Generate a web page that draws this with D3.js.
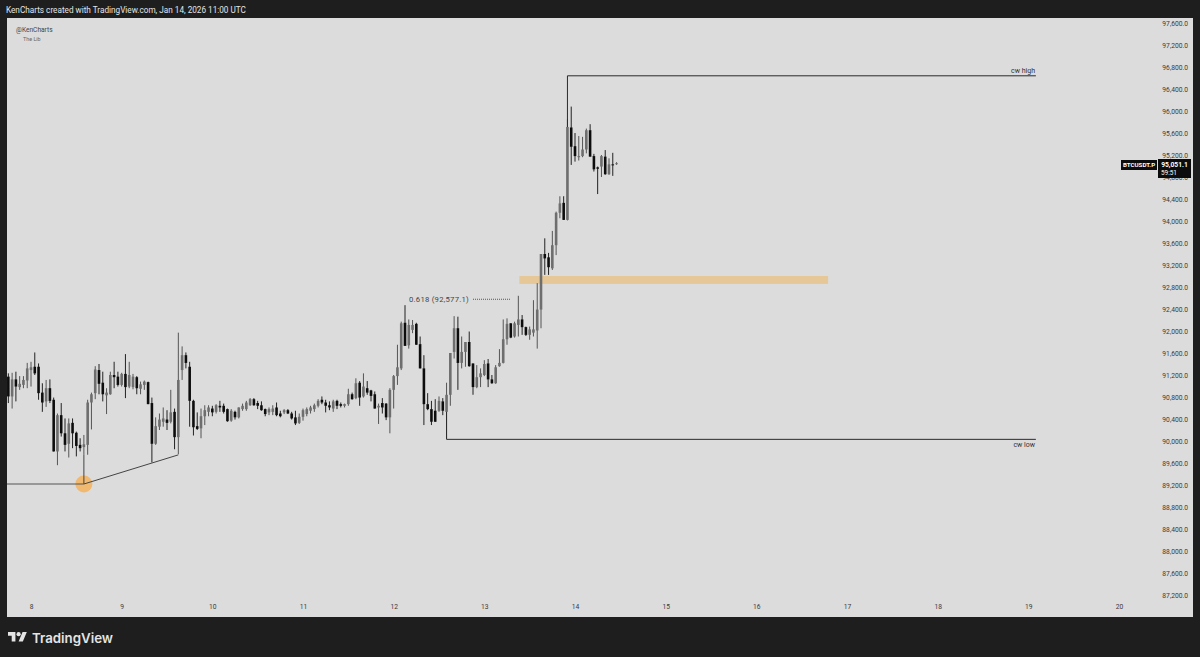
<!DOCTYPE html>
<html><head><meta charset="utf-8">
<script src="https://cdn.jsdelivr.net/npm/d3@7/dist/d3.min.js"></script>
<style>html,body{margin:0;padding:0;background:#1e1e1e;overflow:hidden}svg{display:block}text{font-family:Roboto,sans-serif}</style>
</head><body><svg id="c" width="1200" height="657"></svg>
<script>
// Hourly candles, first bar Jan 7 2026 18:00 UTC
const firstBar = Date.UTC(2026,0,7,18);
const open = [
91170,90810,91120,90980,91020,91100,91290,91350,91350,90880,
90720,90960,90750,89810,90470,90140,89950,90330,90150,89930,
89890,89930,90700,90870,91290,91060,90830,90850,91200,91170,
91020,91220,90990,90980,91160,90950,91020,91070,90690,89950,
90260,90350,90390,90350,90530,90070,91290,91560,91350,90730,
90270,90230,90450,90530,90590,90530,90640,90640,90580,90370,
90530,90430,90580,90580,90650,90760,90690,90650,90580,90520,
90530,90610,90500,90520,90560,90500,90430,90330,90440,90490,
90550,90580,90640,90750,90700,90650,90590,90730,90670,90640,
90670,90850,90780,91060,90810,90960,90920,90850,90610,90690,
90680,90430,90930,91180,91320,92150,91740,92020,92130,91760,
91320,90670,90580,90550,90550,90720,90530,90840,91620,92050,
91420,91620,91800,91410,90980,91160,91200,91410,91120,91050,
91360,91420,91850,92140,91900,92110,92210,92070,91930,91970,
92010,92390,93400,93340,93140,93560,94150,94330,94020,95700,
95360,95160,95180,95300,95650,95180,94975,94990,95170,94850,
95030,95040];
const high = [
91230,91240,91260,91180,91180,91420,91440,91610,91410,91050,
91110,91120,90790,90500,90690,90410,90410,90410,90170,90050,
90110,90750,90880,91360,91400,91260,90960,91260,91440,91260,
91240,91580,91440,91220,91180,91080,91100,91080,90790,90430,
90500,90610,90560,90930,90590,91970,91720,91610,91440,90750,
90520,90590,90650,90650,90640,90670,90730,90680,90590,90580,
90550,90610,90680,90730,90780,90780,90730,90720,90590,90610,
90650,90700,90550,90580,90580,90530,90550,90500,90590,90610,
90640,90680,90760,90810,90750,90720,90750,90750,90700,90680,
90950,90880,91140,91090,91230,91090,90930,90900,90680,90780,
90690,90960,91200,91750,92170,92470,92210,92200,92150,91900,
91560,90870,90730,90760,90810,90780,91060,91600,92270,92260,
91900,91800,91990,91410,91380,91320,91470,91490,91200,91380,
91670,92210,92230,92140,92170,92640,92290,92080,92080,92560,
92870,93400,93685,93420,93820,94170,94450,94450,95850,96080,
95600,95545,95530,95680,95760,95220,94990,95200,95290,95140,
95240,95070];
const low = [
90690,90590,90720,90930,90960,90960,90990,91200,90750,90530,
90620,90690,89810,89560,90080,89810,89700,89870,89720,89810,
89750,89750,90210,90760,90850,90720,90490,90840,90960,90990,
90990,90780,90960,90940,90850,90850,90930,90670,89610,89930,
90200,90260,90200,90320,89850,89760,91110,91320,90260,90100,
90200,90050,90290,90450,90450,90500,90530,90500,90350,90350,
90390,90410,90550,90550,90640,90640,90580,90550,90450,90470,
90470,90450,90430,90490,90490,90390,90290,90310,90370,90450,
90500,90530,90610,90670,90520,90560,90530,90580,90610,90610,
90640,90750,90760,90640,90790,90840,90720,90590,90310,90500,
90380,90140,90590,91020,91290,91730,91680,91960,91750,91320,
90290,90560,90290,90350,90530,90470,90050,90640,91500,90930,
91320,91350,91350,90840,90960,90980,91180,90980,91040,91040,
91350,91410,91750,91870,91880,91900,91930,91910,91840,91900,
91680,92050,93020,93020,93110,93380,94050,94020,94010,95020,
95080,95100,95160,95230,95170,94900,94490,94800,94840,94840,
94820,95020];
const close = [
90810,91120,90990,91040,91110,91320,91340,91230,90870,90700,
90960,90730,89810,90470,90140,89930,90320,90140,89910,89870,
89940,90700,90850,91300,91040,90850,90880,91200,91160,91020,
91220,90980,91200,91170,90960,91030,91080,90670,89950,90270,
90390,90410,90330,90520,90070,91110,91560,91420,90730,90250,
90220,90450,90560,90610,90520,90650,90610,90530,90360,90550,
90430,90610,90640,90700,90760,90650,90640,90560,90490,90580,
90590,90470,90450,90560,90500,90410,90320,90440,90560,90580,
90610,90650,90730,90700,90640,90610,90720,90640,90640,90670,
90850,90760,91050,90790,90990,90880,90820,90590,90640,90610,
90430,90930,91180,91340,92140,91730,92110,92110,91750,91320,
90670,90580,90350,90350,90730,90550,90840,91600,92050,91420,
91620,91800,91360,90980,91160,91230,91400,91120,91050,91340,
91420,91850,92130,91880,92140,92210,92070,91930,92030,92030,
92390,93400,93320,93160,93560,94150,94320,94020,95710,95350,
95180,95180,95300,95650,95170,94940,94950,95180,94850,95030,
95020,95051.1];

const priceTicks = d3.range(87200, 97601, 400);
const dayTicks = [8,9,10,11,12,13,14,15,16,17,18,19,20];
const lastPrice = 95051.1;
const cwHighPrice = 96640, cwLowPrice = 90030, anchorPrice = 89218;
const zoneTop = 93000, zoneBottom = 92855;
const fibPrice = 92577.1;

const hour = (d,h) => new Date(Date.UTC(2026,0,d,h||0));
const x = d3.scaleUtc().domain([hour(8),hour(20)]).range([31,1119]);
const y = d3.scaleLinear().domain([87200,97600]).range([595,23]);
const barTime = i => new Date(firstBar + i*3600000);

const svg = d3.select('#c');
svg.append('rect').attr('width',1200).attr('height',657).attr('fill','#1e1e1e');
svg.append('rect').attr('x',7).attr('y',18).attr('width',1186).attr('height',599).attr('fill','#dcdcdc');

const defs = svg.append('defs');
defs.append('filter').attr('id','soft').append('feGaussianBlur').attr('stdDeviation',0.4);

const clip = defs.append('clipPath').attr('id','plot');
clip.append('rect').attr('x',7).attr('y',18).attr('width',1186).attr('height',599);
const plot = svg.append('g').attr('clip-path','url(#plot)');

// zone
plot.append('rect').attr('x',x(hour(13,9))+1).attr('y',y(zoneTop))
  .attr('width',x(hour(16,19))-x(hour(13,9))-1).attr('height',y(zoneBottom)-y(zoneTop)).attr('fill','#e6c898');

// candles
const marks = plot.append('g').attr('filter','url(#soft)');
const idx = d3.range(open.length);
marks.selectAll('line.w').data(idx).join('line').attr('class','w')
  .attr('x1',i=>x(barTime(i))).attr('x2',i=>x(barTime(i)))
  .attr('y1',i=>y(high[i])).attr('y2',i=>y(low[i]))
  .attr('stroke',i=>close[i]>=open[i]?'#555':'#222').attr('stroke-width',1);
marks.selectAll('rect.b').data(idx).join('rect').attr('class','b')
  .attr('x',i=>x(barTime(i))-1.3).attr('width',2.6)
  .attr('y',i=>y(Math.max(open[i],close[i])))
  .attr('height',i=>Math.max(1,Math.abs(y(open[i])-y(close[i]))))
  .attr('fill',i=>close[i]>=open[i]?'#6e6e6e':'#111');

// annotation lines
const ann = plot.append('g').attr('fill','none').attr('stroke','#2a2a2a').attr('stroke-width',1);
const line = d3.line().x(d=>x(d[0])).y(d=>y(d[1]));
const cwHighPath = [[hour(13,22),95710],[hour(13,22),cwHighPrice],[hour(19,2),cwHighPrice]];
const cwLowPath = [[hour(12,14),90530],[hour(12,14),cwLowPrice],[hour(19,2),cwLowPrice]];
ann.append('path').attr('d',line(cwHighPath));
ann.append('path').attr('d',line(cwLowPath));
ann.append('path').attr('d',line([[hour(9,15),anchorPrice+530],[hour(8,14),anchorPrice]])).attr('stroke','#444');
ann.append('path').attr('d',line([[hour(8,14),anchorPrice],[hour(8,14),89750]])).attr('stroke','#444');
ann.append('path').attr('d',line([[hour(7,16),anchorPrice],[hour(8,14),anchorPrice]])).attr('stroke','#555').attr('stroke-width',1);
// anchor marker
plot.append('circle').attr('cx',x(hour(8,14))).attr('cy',y(anchorPrice)).attr('r',8.5).attr('fill','#f2b566').attr('fill-opacity',.92);
ann.raise();

// fib label
plot.append('text').attr('x',409).attr('y',y(fibPrice)+3).attr('font-size',7.7).attr('fill','#444').attr('letter-spacing',.25).text('0.618 (92,577.1)');
plot.append('line').attr('x1',473).attr('x2',511).attr('y1',y(fibPrice)).attr('y2',y(fibPrice)).attr('stroke','#555').attr('stroke-width',1).attr('stroke-dasharray','1 1');
plot.append('text').attr('x',1035).attr('y',y(cwHighPrice)-3).attr('text-anchor','end').attr('font-size',7).attr('fill','#333').text('cw high');
plot.append('text').attr('x',1035).attr('y',y(cwLowPrice)+7.5).attr('text-anchor','end').attr('font-size',7).attr('fill','#333').text('cw low');

// axes
const yAxis = d3.axisLeft(y).tickValues(priceTicks).tickFormat(d3.format(',.1f')).tickSize(0).tickPadding(0);
const yg = svg.append('g').attr('transform','translate(1188,0)').call(yAxis);
yg.select('.domain').remove();
yg.selectAll('text').attr('font-size',6.7).attr('fill','#3a3a3a').attr('font-family','Roboto,sans-serif');
const xAxis = d3.axisBottom(x).tickValues(dayTicks.map(d=>hour(d))).tickFormat((d,i)=>dayTicks[i]).tickSize(0).tickPadding(0);
const xg = svg.append('g').attr('transform','translate(0,604)').call(xAxis);
xg.select('.domain').remove();
xg.selectAll('text').attr('font-size',6.7).attr('fill','#3a3a3a').attr('font-family','Roboto,sans-serif');

// tags
svg.append('rect').attr('x',1121).attr('y',160).attr('width',36).attr('height',10).attr('fill','#0c0c0c');
svg.append('text').attr('x',1139).attr('y',167.4).attr('text-anchor','middle').attr('font-size',6.2).attr('font-weight',700).attr('fill','#fff').text('BTCUSDT.P');
svg.append('rect').attr('x',1158).attr('y',159).attr('width',33).attr('height',19).attr('fill','#0c0c0c');
svg.append('text').attr('x',1174.5).attr('y',166.6).attr('text-anchor','middle').attr('font-size',6.7).attr('font-weight',700).attr('fill','#fff').text('95,051.1');
svg.append('text').attr('x',1169).attr('y',174.6).attr('text-anchor','middle').attr('font-size',6.4).attr('fill','#fff').text('59:51');

// header / watermark / logo
svg.append('text').attr('x',6).attr('y',12.5).attr('font-size',8.2).attr('font-weight',400).attr('fill','#e4e4e4').text('KenCharts created with TradingView.com, Jan 14, 2026 11:00 UTC');
svg.append('text').attr('x',16).attr('y',32).attr('font-size',6.6).attr('fill','#444').text('@KenCharts');
svg.append('text').attr('x',23).attr('y',41).attr('font-size',5.4).attr('fill','#666').text('The Lib');
const logo = svg.append('g').attr('transform','translate(8,629.9) scale(.53)').attr('fill','#e4e4e4');
logo.append('path').attr('d','M14 22H7V11H0V4h14v18zM28 22h-8l7.5-18h8L28 22z');
logo.append('circle').attr('cx',20).attr('cy',8).attr('r',4);
svg.append('text').attr('x',32).attr('y',643).attr('font-size',13.3).attr('font-weight',600).attr('fill','#e4e4e4').style('font-family','Inter,sans-serif').text('TradingView');
</script></body></html>
